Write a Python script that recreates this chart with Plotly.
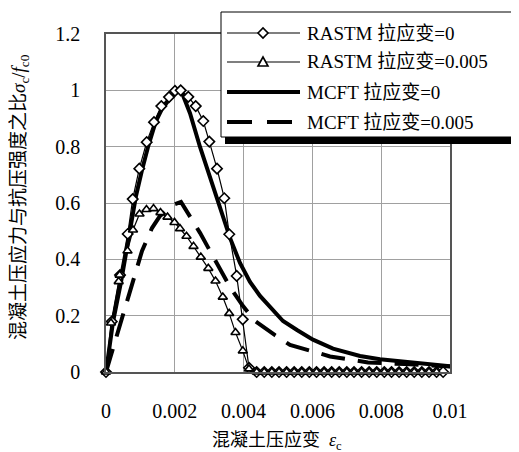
import plotly.graph_objects as go

# ---------------- data ----------------
rastm0_x = [0, 0.000166, 0.000407, 0.000631, 0.000776, 0.000968, 0.001183, 0.001395,
            0.001608, 0.001831, 0.002006, 0.002171, 0.002392, 0.002608, 0.002828,
            0.003003, 0.003227, 0.003439, 0.003584, 0.003799, 0.003974, 0.004157,
            0.00438, 0.00460, 0.00482, 0.00503, 0.00525, 0.00547, 0.00569, 0.00591,
            0.00612, 0.00634, 0.00656, 0.00678, 0.00700, 0.00721, 0.00743, 0.00765,
            0.00787, 0.00809, 0.00830, 0.00852, 0.00874, 0.00896, 0.00918, 0.00939,
            0.00961, 0.00980]
rastm0_y = [0, 0.179, 0.344, 0.490, 0.614, 0.722, 0.816, 0.887,
            0.944, 0.976, 0.998, 1.0, 0.977, 0.944, 0.891,
            0.818, 0.722, 0.617, 0.489, 0.341, 0.187, 0.015,
            0, 0, 0, 0, 0, 0, 0, 0,
            0, 0, 0, 0, 0, 0, 0, 0,
            0, 0, 0, 0, 0, 0, 0, 0,
            0, 0]

rastm5_x = [0, 0.000145, 0.000369, 0.000398, 0.000625, 0.000785, 0.000974, 0.001177,
            0.001381, 0.001584, 0.001788, 0.001991, 0.002151, 0.002340, 0.002544,
            0.002756, 0.002974, 0.003183, 0.003395, 0.003581, 0.003765, 0.003977,
            0.004157,
            0.00438, 0.00460, 0.00482, 0.00503, 0.00525, 0.00547, 0.00569, 0.00591,
            0.00612, 0.00634, 0.00656, 0.00678, 0.00700, 0.00721, 0.00743, 0.00765,
            0.00787, 0.00809, 0.00830, 0.00852, 0.00874, 0.00896, 0.00918, 0.00939,
            0.00961]
rastm5_y = [0, 0.174, 0.321, 0.344, 0.430, 0.504, 0.561, 0.577,
            0.580, 0.566, 0.550, 0.531, 0.509, 0.482, 0.446,
            0.408, 0.368, 0.323, 0.266, 0.208, 0.140, 0.075,
            0.011,
            0, 0, 0, 0, 0, 0, 0, 0,
            0, 0, 0, 0, 0, 0, 0, 0,
            0, 0, 0, 0, 0, 0, 0, 0,
            0]

mcft0_x = [0, 0.000203, 0.000436, 0.000698, 0.000872, 0.001047, 0.001221, 0.001453,
           0.001628, 0.001802, 0.002006, 0.002180, 0.002442, 0.002733, 0.003023,
           0.003314, 0.003605, 0.003895, 0.004186, 0.004477, 0.004855, 0.005145,
           0.005552, 0.006017, 0.006599, 0.007384, 0.007965, 0.008750, 0.009419,
           0.010233]
mcft0_y = [0, 0.177, 0.319, 0.504, 0.625, 0.717, 0.799, 0.891,
           0.934, 0.962, 0.990, 1.0, 0.919, 0.799, 0.692,
           0.586, 0.476, 0.387, 0.320, 0.270, 0.217, 0.181,
           0.149, 0.115, 0.083, 0.057, 0.045, 0.036, 0.031,
           0.018]

mcft5_x = [0, 0.000174, 0.000349, 0.000552, 0.000698, 0.000901, 0.001047, 0.001337,
           0.001570, 0.001744, 0.001948, 0.002180, 0.002442, 0.002733, 0.003023,
           0.003314, 0.003605, 0.003983, 0.004331, 0.004913, 0.005349, 0.006076,
           0.006512, 0.007151, 0.007616, 0.008692, 0.009419, 0.010233]
mcft5_y = [0, 0.071, 0.138, 0.227, 0.288, 0.369, 0.430, 0.511,
           0.554, 0.572, 0.593, 0.604, 0.554, 0.494, 0.430,
           0.366, 0.302, 0.234, 0.181, 0.131, 0.096, 0.071,
           0.055, 0.043, 0.034, 0.028, 0.025, 0.018]

x_ticks = [0, 0.002, 0.004, 0.006, 0.008, 0.01]
x_ticktext = ["0", "0.002", "0.004", "0.006", "0.008", "0.01"]
y_ticks = [0, 0.2, 0.4, 0.6, 0.8, 1.0, 1.2]
y_ticktext = ["0", "0.2", "0.4", "0.6", "0.8", "1", "1.2"]

legend_labels = ["RASTM 拉应变=0", "RASTM 拉应变=0.005", "MCFT 拉应变=0", "MCFT 拉应变=0.005"]
x_title = "混凝土压应变  <i>ε</i><sub>c</sub>"
y_title = "混凝土压应力与抗压强度之比<i>σ</i><sub>c</sub>/<i>f</i><sub>c0</sub>"

# ---------------- layout geometry ----------------
# the page body has an 8px margin, so the figure is shifted by OFF px
OFF = 8
W, H = 519 - OFF, 452 - OFF
L, T = 106 - OFF, 34 - OFF
PW, PH = 344, 338
R = W - L - PW
B = H - T - PH

def PX(page_px):
    return (page_px - OFF - L) / PW

def PY(page_py):
    return (T + PH - (page_py - OFF)) / PH

SERIF = "Times New Roman, Liberation Serif, Noto Sans CJK SC, serif"

fig = go.Figure()

fig.add_trace(go.Scatter(x=mcft0_x, y=mcft0_y, mode="lines",
                         line=dict(color="black", width=4), showlegend=False))
fig.add_trace(go.Scatter(x=mcft5_x, y=mcft5_y, mode="lines",
                         line=dict(color="black", width=4, dash="24px,13px"), showlegend=False))
fig.add_trace(go.Scatter(x=rastm0_x, y=rastm0_y, mode="lines+markers",
                         line=dict(color="black", width=1.2),
                         marker=dict(symbol="diamond", size=8, color="white",
                                     line=dict(color="black", width=1.6)),
                         cliponaxis=False, showlegend=False))
fig.add_trace(go.Scatter(x=rastm5_x, y=rastm5_y, mode="lines+markers",
                         line=dict(color="black", width=1.2),
                         marker=dict(symbol="triangle-up", size=8, color="white",
                                     line=dict(color="black", width=1.6)),
                         cliponaxis=False, showlegend=False))

# ---------------- custom legend ----------------
shapes = []
annotations = []
lx0, ly0, lx1, ly1 = 221, 12, 516, 137
shapes.append(dict(type="rect", xref="paper", yref="paper",
                   x0=PX(lx0 + 4), x1=PX(lx1 + 5), y0=PY(ly1 + 7), y1=PY(ly0 + 4),
                   fillcolor="black", line=dict(width=0), layer="above"))
shapes.append(dict(type="rect", xref="paper", yref="paper",
                   x0=PX(lx0), x1=PX(lx1), y0=PY(ly1), y1=PY(ly0),
                   fillcolor="white", line=dict(color="black", width=1), layer="above"))
rows = [33, 62, 92, 122]
sx0, sx1, mx = 227, 300, 263
for i, ry in enumerate(rows):
    if i < 2:
        shapes.append(dict(type="line", xref="paper", yref="paper",
                           x0=PX(sx0), x1=PX(sx1), y0=PY(ry), y1=PY(ry),
                           line=dict(color="black", width=1.2), layer="above"))
    elif i == 2:
        shapes.append(dict(type="line", xref="paper", yref="paper",
                           x0=PX(sx0), x1=PX(sx1), y0=PY(ry), y1=PY(ry),
                           line=dict(color="black", width=4), layer="above"))
    else:
        shapes.append(dict(type="line", xref="paper", yref="paper",
                           x0=PX(sx0), x1=PX(sx1 - 8), y0=PY(ry), y1=PY(ry),
                           line=dict(color="black", width=4, dash="25px,15px"), layer="above"))
    annotations.append(dict(text=legend_labels[i], xref="paper", yref="paper",
                            x=PX(305), y=PY(ry), xanchor="left", yanchor="middle",
                            showarrow=False, font=dict(family=SERIF, size=19, color="black")))

# diamond marker
d = 5
r0 = rows[0]
shapes.append(dict(type="path", xref="paper", yref="paper",
                   path=f"M {PX(mx-d)},{PY(r0)} L {PX(mx)},{PY(r0-d)} L {PX(mx+d)},{PY(r0)} L {PX(mx)},{PY(r0+d)} Z",
                   fillcolor="white", line=dict(color="black", width=1.6), layer="above"))
# triangle marker
ty = rows[1]
shapes.append(dict(type="path", xref="paper", yref="paper",
                   path=f"M {PX(mx-5)},{PY(ty+4)} L {PX(mx)},{PY(ty-5)} L {PX(mx+5)},{PY(ty+4)} Z",
                   fillcolor="white", line=dict(color="black", width=1.6), layer="above"))

# axis titles
annotations.append(dict(text=x_title, xref="paper", yref="paper",
                        x=PX(277), y=PY(441), xanchor="center", yanchor="middle",
                        showarrow=False, font=dict(family=SERIF, size=18, color="black")))
annotations.append(dict(text=y_title, xref="paper", yref="paper",
                        x=PX(20), y=PY(197), xanchor="center", yanchor="middle",
                        textangle=-90, showarrow=False, borderpad=0,
                        font=dict(family=SERIF, size=19, color="black")))

fig.update_layout(
    width=W, height=H,
    margin=dict(l=L, r=R, t=T, b=B, pad=0),
    paper_bgcolor="white", plot_bgcolor="white",
    showlegend=False,
    shapes=shapes, annotations=annotations,
    font=dict(family=SERIF, size=20, color="black"),
)
fig.update_xaxes(range=[0, 0.01], tickvals=x_ticks, ticktext=x_ticktext,
                 showgrid=True, gridcolor="#a0a0a0", gridwidth=1,
                 showline=True, linecolor="#555555", linewidth=1.5, mirror=True,
                 zeroline=False, ticks="", ticklabelstandoff=20,
                 tickfont=dict(family=SERIF, size=20, color="black"))
fig.update_yaxes(range=[0, 1.2], tickvals=y_ticks, ticktext=y_ticktext,
                 showgrid=True, gridcolor="#a0a0a0", gridwidth=1,
                 showline=True, linecolor="#555555", linewidth=1.5, mirror=True,
                 zeroline=False, ticks="", ticklabelstandoff=20,
                 tickfont=dict(family=SERIF, size=20, color="black"))

fig.write_html("out.html")
